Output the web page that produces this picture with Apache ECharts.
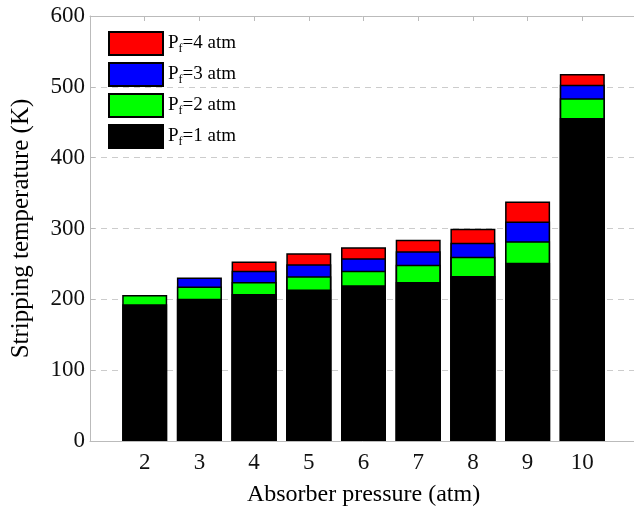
<!DOCTYPE html>
<html>
<head>
<meta charset="utf-8">
<script src="https://cdn.jsdelivr.net/npm/echarts@6/dist/echarts.min.js"></script>
<style>html,body{margin:0;padding:0;background:#fff;}#c{width:634px;height:510px;}</style>
</head>
<body>
<div id="c"></div>
<script>
var pressures = [2, 3, 4, 5, 6, 7, 8, 9, 10];
var pf1 = [193, 201, 207.5, 214, 220, 224.5, 233, 251.5, 456];
var pf2 = [206, 218, 224.5, 232.5, 240.5, 249, 260, 282, 484];
var pf3 = [null, 231, 240.5, 249.5, 258, 268, 280, 310, 503];
var pf4 = [null, null, 253.5, 265, 273.5, 284, 299.5, 338, 518];
var yTicks = [0, 100, 200, 300, 400, 500, 600];

var FONT = '"Liberation Serif", "DejaVu Serif", serif';
function pairs(vals) {
  return pressures.map(function (p, i) { return [p, vals[i]]; });
}
function mk(name, color, vals) {
  return {
    name: name, type: 'bar', barWidth: 45, barGap: '-100%',
    data: pairs(vals),
    itemStyle: { color: color, borderColor: '#000', borderWidth: 1.5 },
    emphasis: { disabled: true }
  };
}
var chart = echarts.init(document.getElementById('c'));
chart.setOption({
  animation: false,
  backgroundColor: '#fff',
  grid: { left: 90, top: 16, width: 547, height: 425, containLabel: false, outerBoundsMode: 'none' },
  legend: {
    left: 108, top: 31, orient: 'vertical', padding: 0,
    itemWidth: 54, itemHeight: 23, itemGap: 6,
    icon: 'rect',
    data: ['4', '3', '2', '1'],
    formatter: function (n) { return '{a|P}{b|f}{a|=' + n + ' atm}'; },
    textStyle: {
      fontFamily: FONT, fontSize: 19, color: '#000', lineHeight: 23,
      rich: {
        a: { fontFamily: FONT, fontSize: 19, color: '#000', lineHeight: 23 },
        b: { fontFamily: FONT, fontSize: 12, color: '#000', lineHeight: 23, verticalAlign: 'bottom', padding: [6, 0, 0, 0] }
      }
    }
  },
  xAxis: [{
    type: 'value', min: 1, max: 11, interval: 1,
    name: 'Absorber pressure (atm)', nameLocation: 'middle', nameGap: 42,
    nameTextStyle: { fontFamily: FONT, fontSize: 24, color: '#000' },
    axisLine: { show: true, lineStyle: { color: '#bbb', width: 1 } },
    axisTick: { show: true, inside: true, length: 5, lineStyle: { color: '#bbb' } },
    axisLabel: {
      fontFamily: FONT, fontSize: 23, color: '#111', margin: 10,
      formatter: function (v) { return pressures.indexOf(v) >= 0 ? String(v) : ''; }
    },
    splitLine: { show: false }
  }, {
    type: 'value', min: 1, max: 11, interval: 1, position: 'top',
    axisLine: { show: true, lineStyle: { color: '#bbb', width: 1 } },
    axisTick: { show: true, inside: true, length: 5, lineStyle: { color: '#bbb' } },
    axisLabel: { show: false },
    splitLine: { show: false }
  }],
  yAxis: {
    type: 'value', min: 0, max: 600, interval: 100,
    name: 'Stripping temperature (K)', nameLocation: 'middle', nameGap: 56,
    nameTextStyle: { fontFamily: FONT, fontSize: 25, color: '#000' },
    axisLine: { show: true, lineStyle: { color: '#bbb', width: 1 } },
    axisTick: { show: true, inside: true, length: 5, lineStyle: { color: '#bbb' } },
    axisLabel: {
      fontFamily: FONT, fontSize: 23, color: '#111', margin: 5,
      formatter: function (v) { return yTicks.indexOf(v) >= 0 ? String(v) : ''; }
    },
    splitLine: { show: true, lineStyle: { color: '#ccc', type: [6, 5], width: 1 } }
  },
  series: [
    mk('4', '#ff0000', pf4),
    mk('3', '#0000ff', pf3),
    mk('2', '#00ff00', pf2),
    mk('1', '#000000', pf1)
  ]
});
</script>
</body>
</html>
